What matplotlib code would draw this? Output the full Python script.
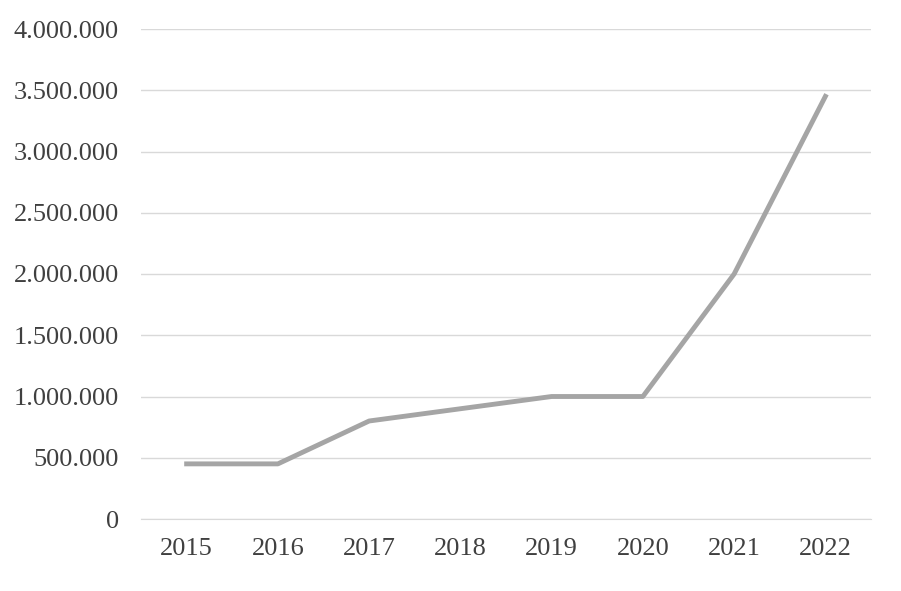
import matplotlib
matplotlib.use("Agg")
import matplotlib.pyplot as plt
from matplotlib.ticker import FuncFormatter

years = ["2015", "2016", "2017", "2018", "2019", "2020", "2021", "2022"]
values = [450000, 450000, 800000, 900000, 1000000, 1000000, 2000000, 3450000]

plt.rcParams['font.family'] = ['Liberation Serif', 'DejaVu Serif']
fig = plt.figure(figsize=(9.01, 5.91), dpi=100)
ax = fig.add_axes([141/901, 72/591, 730/901, 490/591])
x = list(range(len(years)))
ax.plot(x, values, color='#a5a5a5', linewidth=3.5, solid_joinstyle='round')
ax.set_xlim(-0.5, len(years) - 0.5)
ax.set_ylim(0, 4000000)
ax.set_yticks(range(0, 4000001, 500000))
ax.yaxis.set_major_formatter(FuncFormatter(lambda v, p: f"{int(v):,}".replace(",", ".")))
ax.set_xticks(x)
ax.set_xticklabels(years)
ax.grid(axis='y', color='#d9d9d9', linewidth=1)
ax.set_axisbelow(True)
for s in ['top', 'right', 'left']:
    ax.spines[s].set_visible(False)
ax.spines['bottom'].set_color('#d9d9d9')
ax.tick_params(length=0, labelsize=19, colors='#404040')
ax.tick_params(axis='y', pad=16)
ax.tick_params(axis='x', pad=14)
fig.savefig("out.png", dpi=100)
